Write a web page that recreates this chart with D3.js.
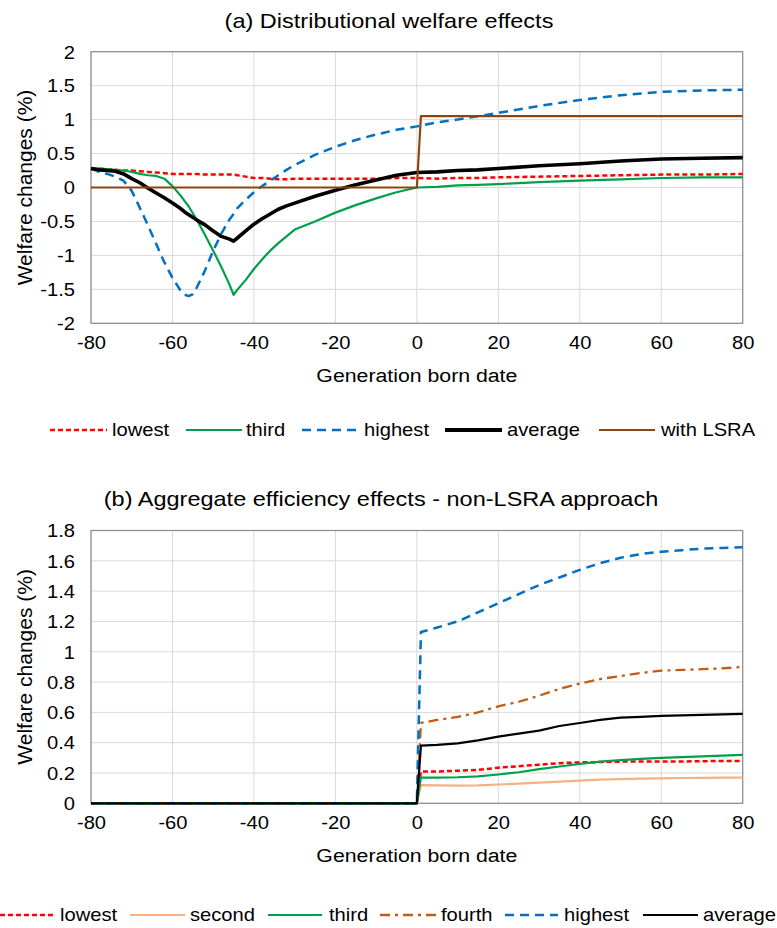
<!DOCTYPE html>
<html>
<head>
<meta charset="utf-8">
<script src="https://cdn.jsdelivr.net/npm/d3@7"></script>
<style>
html, body { margin: 0; padding: 0; background: #fff; }
svg text { font-family: "Liberation Sans", Arial, sans-serif; fill: #000; }
</style>
</head>
<body>
<svg id="chart" width="777" height="928"></svg>
<script>
// ---------- Panel (a): distributional welfare effects ----------
const gensA = [-80,-78,-76,-74,-72,-70,-68,-66,-64,-62,-60,-58,-57,-56,-55,-54,-52,-50,-48,-46,
               -45,-44,-42,-40,-38,-36,-34,-32,-30,-25,-20,-15,-10,-5,0,5,10,15,20,30,40,50,60,70,80];
const lowestA = [0.28,0.275,0.27,0.26,0.25,0.25,0.24,0.23,0.22,0.21,0.2,0.2,0.2,0.2,0.2,0.2,0.19,0.19,0.19,0.19,
                 0.19,0.18,0.16,0.14,0.14,0.13,0.12,0.12,0.13,0.13,0.13,0.13,0.13,0.14,0.14,0.13,0.14,0.14,0.15,0.16,0.17,0.18,0.19,0.19,0.2];
const thirdA = [0.28,0.28,0.27,0.26,0.25,0.23,0.2,0.18,0.17,0.13,0.02,-0.12,-0.2,-0.28,-0.38,-0.48,-0.7,-0.93,-1.17,-1.43,
                -1.58,-1.5,-1.36,-1.2,-1.06,-0.93,-0.82,-0.72,-0.62,-0.5,-0.37,-0.26,-0.16,-0.07,0,0.01,0.03,0.04,0.05,0.08,0.1,0.12,0.14,0.15,0.15];
const highestA = [0.28,0.23,0.2,0.16,0.1,-0.05,-0.3,-0.56,-0.83,-1.1,-1.33,-1.52,-1.58,-1.6,-1.57,-1.47,-1.22,-0.93,-0.68,-0.47,
                  -0.39,-0.3,-0.18,-0.07,0.02,0.1,0.18,0.26,0.33,0.48,0.6,0.7,0.78,0.85,0.9,0.96,1.0,1.05,1.1,1.2,1.29,1.36,1.41,1.43,1.44];
const averageA = [0.28,0.26,0.25,0.24,0.2,0.13,0.07,-0.01,-0.08,-0.15,-0.23,-0.31,-0.36,-0.4,-0.44,-0.48,-0.55,-0.64,-0.72,-0.76,
                  -0.79,-0.74,-0.64,-0.54,-0.46,-0.39,-0.32,-0.27,-0.23,-0.13,-0.04,0.04,0.11,0.18,0.22,0.23,0.25,0.26,0.28,0.32,0.35,0.39,0.42,0.43,0.44];
const gensLSRA = [-80, 0, 1, 80];
const lsraA = [0, 0, 1.05, 1.05];
const yTicksA = [-2, -1.5, -1, -0.5, 0, 0.5, 1, 1.5, 2];

// ---------- Panel (b): aggregate efficiency effects ----------
const gensB = [-80,0,1,5,10,15,20,25,30,35,40,45,50,55,60,65,70,75,80];
const lowestB = [0,0,0.21,0.21,0.215,0.22,0.235,0.245,0.255,0.265,0.27,0.272,0.275,0.275,0.275,0.276,0.278,0.279,0.28];
const secondB = [0,0,0.12,0.118,0.116,0.118,0.124,0.13,0.136,0.143,0.15,0.156,0.16,0.163,0.165,0.167,0.168,0.169,0.17];
const thirdB = [0,0,0.17,0.17,0.172,0.178,0.19,0.205,0.225,0.243,0.26,0.275,0.285,0.293,0.3,0.305,0.31,0.315,0.32];
const fourthB = [0,0,0.53,0.55,0.57,0.6,0.64,0.67,0.71,0.755,0.79,0.82,0.84,0.86,0.875,0.88,0.885,0.89,0.9];
const highestB = [0,0,1.13,1.16,1.2,1.26,1.32,1.38,1.44,1.49,1.54,1.585,1.62,1.645,1.66,1.67,1.68,1.685,1.69];
const averageB = [0,0,0.38,0.385,0.395,0.415,0.44,0.46,0.48,0.51,0.53,0.55,0.565,0.57,0.577,0.58,0.583,0.587,0.59];
const yTicksB = [0, 0.2, 0.4, 0.6, 0.8, 1, 1.2, 1.4, 1.6, 1.8];

const xTicks = [-80, -60, -40, -20, 0, 20, 40, 60, 80];
const titleA = "(a) Distributional welfare effects";
const titleB = "(b) Aggregate efficiency effects - non-LSRA approach";
const xLabel = "Generation born date";
const yLabel = "Welfare changes (%)";

// line styles
const STY = {
  lowest:  { color: "#FF0000", width: 2.5, dash: "5,3" },
  second:  { color: "#F4B183", width: 2.2, dash: null },
  third:   { color: "#00A04B", width: 2.2, dash: null },
  fourth:  { color: "#C55A11", width: 2.3, dash: "10,5,3,5" },
  highest: { color: "#0070C0", width: 2.5, dash: "9,6" },
  averageA:{ color: "#000000", width: 3.6, dash: null },
  averageB:{ color: "#000000", width: 2.2, dash: null },
  lsra:    { color: "#8B4513", width: 2.2, dash: null }
};

const SX = 1.12; // horizontal text widening
const svg = d3.select("#chart");

function label(g, x, y, str, size, anchor) {
  return g.append("text")
    .attr("transform", `translate(${x},${y}) scale(${SX},1)`)
    .attr("text-anchor", anchor || "middle")
    .style("font-size", size + "px")
    .text(str);
}

function panel(opts) {
  const { top, bottom, left, right, yDomain, yTicks, series, title, titleX, titleY, legend, legendY, yLabelX } = opts;
  const g = svg.append("g");
  const x = d3.scaleLinear().domain([-80, 80]).range([left, right]);
  const y = d3.scaleLinear().domain(yDomain).range([bottom, top]);

  // gridlines
  g.append("g").selectAll("line").data(yTicks).join("line")
    .attr("x1", left).attr("x2", right)
    .attr("y1", d => y(d)).attr("y2", d => y(d))
    .attr("stroke", "#d9d9d9").attr("stroke-width", 1);
  g.append("g").selectAll("line").data(xTicks).join("line")
    .attr("x1", d => x(d)).attr("x2", d => x(d))
    .attr("y1", top).attr("y2", bottom)
    .attr("stroke", "#d9d9d9").attr("stroke-width", 1);

  // frame
  g.append("rect").attr("x", left).attr("y", top)
    .attr("width", right - left).attr("height", bottom - top)
    .attr("fill", "none").attr("stroke", "#8c8c8c").attr("stroke-width", 1.2);

  // axes
  const ya = g.append("g").attr("transform", `translate(${left},0)`)
    .call(d3.axisLeft(y).tickValues(yTicks).tickSize(0).tickFormat(d => String(d)));
  ya.select(".domain").remove();
  ya.selectAll("text").attr("x", null).attr("dy", "0.35em")
    .attr("transform", `translate(-16,0) scale(${SX},1)`)
    .style("font-size", "18px");

  const xa = g.append("g").attr("transform", `translate(0,${bottom})`)
    .call(d3.axisBottom(x).tickValues(xTicks).tickSize(0).tickFormat(d => String(d)));
  xa.select(".domain").remove();
  xa.selectAll("text").attr("y", 26).attr("dy", null)
    .attr("transform", `scale(${SX},1)`)
    .style("font-size", "18px");

  // series
  const line = d3.line().x(d => x(d[0])).y(d => y(d[1]));
  series.forEach(s => {
    const pts = s.gens.map((gx, i) => [gx, s.vals[i]]);
    g.append("path").datum(pts)
      .attr("d", line)
      .attr("fill", "none")
      .attr("stroke", s.sty.color)
      .attr("stroke-width", s.sty.width)
      .attr("stroke-dasharray", s.sty.dash)
      .attr("stroke-linejoin", "round");
  });

  // titles
  label(g, titleX, titleY, title, 21);
  label(g, (left + right) / 2, bottom + 59, xLabel, 19);
  g.append("text")
    .attr("transform", `translate(${yLabelX},${(top + bottom) / 2}) rotate(-90)`)
    .attr("text-anchor", "middle")
    .style("font-size", "21px")
    .text(yLabel);

  // legend
  legend.forEach(it => {
    g.append("line")
      .attr("x1", it.x1).attr("x2", it.x2)
      .attr("y1", legendY - 6).attr("y2", legendY - 6)
      .attr("stroke", it.sty.color)
      .attr("stroke-width", it.sty === STY.averageA ? 4 : it.sty.width)
      .attr("stroke-dasharray", it.sty.dash);
    label(g, it.tx, legendY, it.name, 18, "start");
  });
}

panel({
  top: 51.7, bottom: 323.3, left: 91, right: 742.7,
  yDomain: [-2, 2], yTicks: yTicksA,
  title: titleA, titleX: 389, titleY: 28, yLabelX: 32,
  series: [
    { gens: gensA, vals: lowestA, sty: STY.lowest },
    { gens: gensA, vals: thirdA, sty: STY.third },
    { gens: gensA, vals: highestA, sty: STY.highest },
    { gens: gensA, vals: averageA, sty: STY.averageA },
    { gens: gensLSRA, vals: lsraA, sty: STY.lsra }
  ],
  legendY: 436,
  legend: [
    { name: "lowest", sty: STY.lowest, x1: 50, x2: 107, tx: 112 },
    { name: "third", sty: STY.third, x1: 186, x2: 242, tx: 246 },
    { name: "highest", sty: STY.highest, x1: 302, x2: 356, tx: 364 },
    { name: "average", sty: STY.averageA, x1: 445, x2: 502, tx: 507 },
    { name: "with LSRA", sty: STY.lsra, x1: 599, x2: 655, tx: 661 }
  ]
});

panel({
  top: 530.5, bottom: 803.3, left: 91, right: 742.7,
  yDomain: [0, 1.8], yTicks: yTicksB,
  title: titleB, titleX: 381, titleY: 506, yLabelX: 32,
  series: [
    { gens: gensB, vals: lowestB, sty: STY.lowest },
    { gens: gensB, vals: secondB, sty: STY.second },
    { gens: gensB, vals: thirdB, sty: STY.third },
    { gens: gensB, vals: fourthB, sty: STY.fourth },
    { gens: gensB, vals: highestB, sty: STY.highest },
    { gens: gensB, vals: averageB, sty: STY.averageB }
  ],
  legendY: 921,
  legend: [
    { name: "lowest", sty: STY.lowest, x1: 0, x2: 55, tx: 60 },
    { name: "second", sty: STY.second, x1: 130, x2: 185, tx: 190 },
    { name: "third", sty: STY.third, x1: 268, x2: 322, tx: 329 },
    { name: "fourth", sty: STY.fourth, x1: 380, x2: 437, tx: 441 },
    { name: "highest", sty: STY.highest, x1: 505, x2: 558, tx: 564 },
    { name: "average", sty: STY.averageB, x1: 643, x2: 698, tx: 703 }
  ]
});
</script>
</body>
</html>
